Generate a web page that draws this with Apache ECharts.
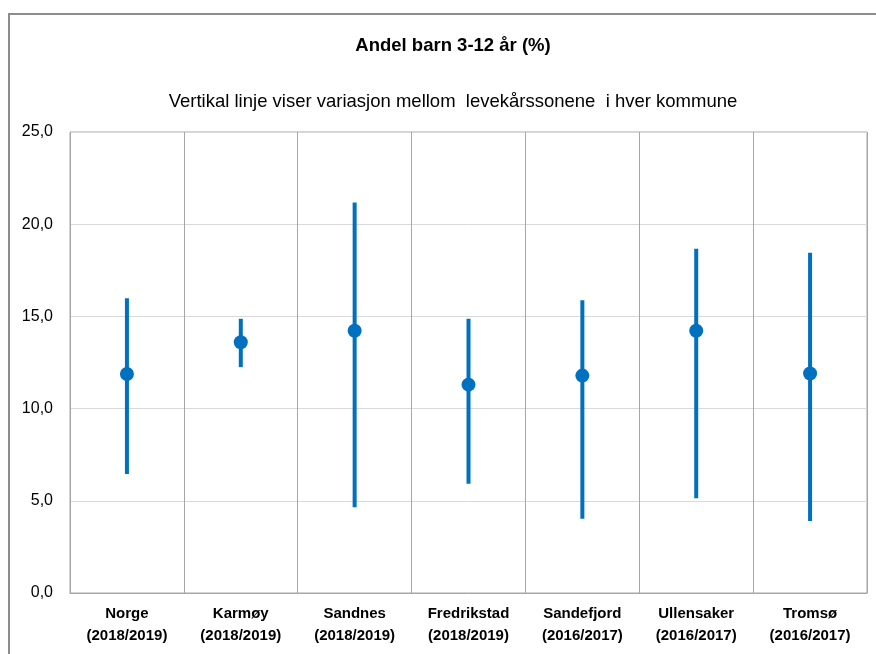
<!DOCTYPE html>
<html>
<head>
<meta charset="utf-8">
<script src="https://cdn.jsdelivr.net/npm/echarts@6/dist/echarts.min.js"></script>
<style>
html,body{margin:0;padding:0;background:#fff;}
#frame{position:absolute;left:8px;top:13px;width:900px;height:700px;border-left:2px solid #8c8c8c;border-top:2px solid #8c8c8c;}
#chart{position:absolute;left:0;top:0;width:876px;height:654px;}
</style>
</head>
<body>
<div id="frame"></div>
<div id="chart"></div>
<script>
const categories = ['Norge\n(2018/2019)', 'Karmøy\n(2018/2019)', 'Sandnes\n(2018/2019)', 'Fredrikstad\n(2018/2019)', 'Sandefjord\n(2016/2017)', 'Ullensaker\n(2016/2017)', 'Tromsø\n(2016/2017)'];
const lowValues  = [6.45, 12.25, 4.65, 5.93, 4.03, 5.14, 3.91];
const highValues = [15.99, 14.87, 21.18, 14.87, 15.88, 18.67, 18.45];
const midValues  = [11.88, 13.6, 14.22, 11.3, 11.79, 14.22, 11.9];
const yTicks = [0, 5, 10, 15, 20, 25];

const rangeData = categories.map((c, i) => [i, lowValues[i], highValues[i]]);

const chart = echarts.init(document.getElementById('chart'), null, {renderer: 'canvas'});
chart.setOption({
  animation: false,
  backgroundColor: 'transparent',
  title: [
    {text: 'Andel barn 3-12 år (%)', left: 448, top: 31, textAlign: 'center',
     textStyle: {fontFamily: 'Liberation Sans, Arial', fontSize: 18.5, fontWeight: 'bold', color: '#000'}},
    {text: 'Vertikal linje viser variasjon mellom  levekårssonene  i hver kommune', left: 448, top: 87, textAlign: 'center',
     textStyle: {fontFamily: 'Liberation Sans, Arial', fontSize: 18.5, fontWeight: 'normal', color: '#000'}}
  ],
  grid: {left: 70, right: 9, top: 132, bottom: 61, show: true, borderColor: '#a6a6a6', borderWidth: 1},
  xAxis: {
    type: 'category', data: categories, boundaryGap: true,
    axisLine: {show: true, lineStyle: {color: '#a6a6a6', width: 1}},
    axisTick: {show: false},
    splitLine: {show: true, lineStyle: {color: '#a6a6a6', width: 1}},
    axisLabel: {interval: 0, margin: 10, fontFamily: 'Liberation Sans, Arial', fontSize: 15, fontWeight: 'bold', color: '#000', lineHeight: 22}
  },
  yAxis: {
    type: 'value', min: yTicks[0], max: yTicks[yTicks.length - 1], interval: 5,
    axisLine: {show: false}, axisTick: {show: false},
    splitLine: {show: true, lineStyle: {color: '#d9d9d9', width: 1}},
    axisLabel: {margin: 17, fontFamily: 'Liberation Sans, Arial', fontSize: 16, color: '#000',
      formatter: v => v.toFixed(1).replace('.', ',')}
  },
  series: [
    {
      type: 'custom',
      data: rangeData,
      encode: {x: 0, y: [1, 2]},
      renderItem: function (params, api) {
        const lo = api.coord([api.value(0), api.value(1)]);
        const hi = api.coord([api.value(0), api.value(2)]);
        return {type: 'line', shape: {x1: lo[0], y1: lo[1], x2: hi[0], y2: hi[1]},
                style: {stroke: '#0070C0', lineWidth: 4}};
      },
      z: 2
    },
    {
      type: 'scatter',
      data: midValues,
      symbol: 'circle', symbolSize: 14,
      itemStyle: {color: '#0070C0', opacity: 1},
      z: 3
    }
  ]
});
</script>
</body>
</html>
